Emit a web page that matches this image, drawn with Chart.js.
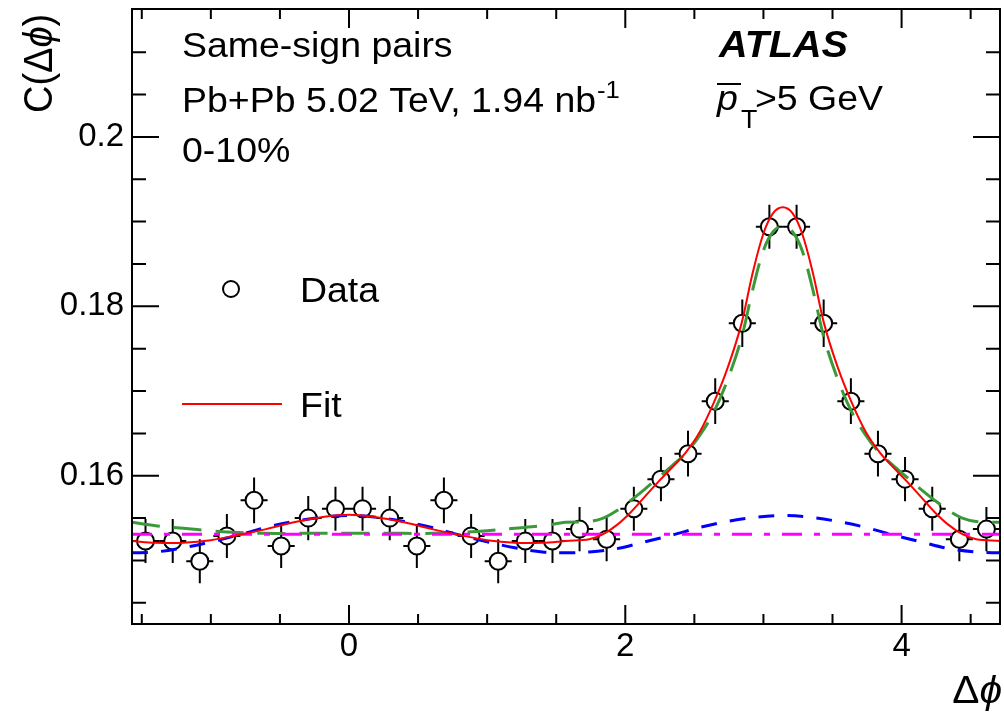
<!DOCTYPE html>
<html>
<head>
<meta charset="utf-8">
<script src="https://cdn.jsdelivr.net/npm/chart.js@4.4.0/dist/chart.umd.min.js"></script>
<style>
  html, body { margin: 0; padding: 0; background: #fff; }
  #wrap { width: 1004px; height: 716px; }
</style>
</head>
<body>
<div id="wrap"><canvas id="corrChart" width="1004" height="716"></canvas></div>
<script>
// bin centres (delta phi) and measured C(dphi)
const dphiBins = [-1.473, -1.276, -1.080, -0.884, -0.687, -0.491, -0.295, -0.098,
  0.098, 0.295, 0.491, 0.687, 0.884, 1.080, 1.276, 1.473,
  1.669, 1.865, 2.062, 2.258, 2.454, 2.651, 2.847, 3.043,
  3.240, 3.436, 3.633, 3.829, 4.025, 4.222, 4.418, 4.614];
const dataValues = [0.1523, 0.1523, 0.1499, 0.1529, 0.1571, 0.1517, 0.1550, 0.1561,
  0.1561, 0.1550, 0.1517, 0.1571, 0.1529, 0.1499, 0.1523, 0.1523,
  0.1537, 0.1525, 0.1561, 0.1596, 0.1626, 0.1688, 0.1780, 0.1894,
  0.1894, 0.1780, 0.1688, 0.1626, 0.1596, 0.1561, 0.1525, 0.1537];
const dataErrors = [0.0026, 0.0026, 0.0026, 0.0026, 0.0027, 0.0026, 0.0026, 0.0026,
  0.0026, 0.0026, 0.0026, 0.0027, 0.0026, 0.0026, 0.0026, 0.0026,
  0.0026, 0.0026, 0.0026, 0.0026, 0.0027, 0.0027, 0.0028, 0.0026,
  0.0026, 0.0028, 0.0027, 0.0027, 0.0026, 0.0026, 0.0026, 0.0026];
const binHalfWidth = 0.098;

// full fit (red)
const fitX = [-1.571, -1.4, -1.2, -1.0, -0.8, -0.6, -0.4, -0.2, 0, 0.2, 0.4, 0.6, 0.8, 1.0, 1.2, 1.4,
  1.57, 1.74, 1.84, 1.94, 2.04, 2.14, 2.24, 2.34, 2.44, 2.54, 2.64, 2.74, 2.84, 2.92, 3.00, 3.07,
  3.14, 3.21, 3.28, 3.36, 3.44, 3.54, 3.64, 3.74, 3.84, 3.94, 4.04, 4.14, 4.24, 4.34, 4.44, 4.54, 4.713];
const fitY = [0.1523, 0.1521, 0.1521, 0.1524, 0.1530, 0.1537, 0.1545, 0.1551, 0.1554, 0.1551, 0.1545, 0.1537, 0.1530, 0.1524, 0.1521, 0.1521,
  0.1523, 0.1525, 0.1531, 0.1542, 0.1557, 0.1575, 0.1593, 0.1610, 0.1628, 0.1652, 0.1686, 0.1727, 0.1779, 0.1838, 0.1886, 0.1910,
  0.1917, 0.1910, 0.1886, 0.1838, 0.1779, 0.1727, 0.1686, 0.1652, 0.1628, 0.1610, 0.1593, 0.1575, 0.1557, 0.1542, 0.1531, 0.1525, 0.1523];

// away-side component (green)
const awayX = fitX;
const awayY = [0.1545, 0.1541, 0.1538, 0.1535, 0.1533, 0.1532, 0.1532, 0.1532, 0.1532, 0.1532, 0.1532, 0.1532, 0.1533, 0.1535, 0.1538, 0.1541,
  0.1545, 0.1546, 0.1550, 0.1559, 0.1571, 0.1584, 0.1598, 0.1612, 0.1627, 0.1648, 0.1675, 0.1713, 0.1762, 0.1818, 0.1866, 0.1888,
  0.1895, 0.1888, 0.1866, 0.1818, 0.1762, 0.1713, 0.1675, 0.1648, 0.1627, 0.1612, 0.1598, 0.1584, 0.1571, 0.1559, 0.1550, 0.1546, 0.1545];

// flow modulation (blue)
const flowX = [-1.571, -1.4, -1.2, -1.0, -0.8, -0.6, -0.4, -0.2, 0, 0.2, 0.4, 0.6, 0.8, 1.0, 1.2, 1.4,
  1.57, 1.74, 1.94, 2.14, 2.34, 2.54, 2.74, 2.94, 3.14, 3.34, 3.54, 3.74, 3.94, 4.14, 4.34, 4.54, 4.713];
const flowY = [0.1509, 0.1510, 0.1515, 0.1522, 0.1530, 0.1539, 0.1546, 0.1551, 0.1553, 0.1551, 0.1546, 0.1539, 0.1530, 0.1522, 0.1515, 0.1510,
  0.1509, 0.1510, 0.1514, 0.1522, 0.1530, 0.1539, 0.1546, 0.1551, 0.1553, 0.1551, 0.1546, 0.1539, 0.1530, 0.1522, 0.1514, 0.1510, 0.1509];

// pedestal (magenta)
const pedX = [-1.571, 4.713];
const pedY = [0.1531, 0.1531];

// axes
const xMin = -1.5708, xMax = 4.7124;
const yMin = 0.1425, yMax = 0.2151;
const xLabelTicks = [0, 2, 4];
const xMinorTicks = [-1.5, -1, -0.5, 0.5, 1, 1.5, 2.5, 3, 3.5, 4.5];
const yLabelTicks = [0.16, 0.18, 0.2];
const yMinorTicks = [0.145, 0.15, 0.155, 0.165, 0.17, 0.175, 0.185, 0.19, 0.195, 0.205, 0.21];

const FONT = '"Liberation Sans", Arial, Helvetica, sans-serif';
const SX = 1.07; // text in the reference is a little wider than tall

const toPts = (xs, ys) => xs.map((x, i) => ({ x: x, y: ys[i] }));

function drawText(ctx, s, x, y, font, align) {
  ctx.save();
  ctx.font = font;
  ctx.fillStyle = '#000';
  ctx.textBaseline = 'alphabetic';
  ctx.textAlign = align || 'left';
  ctx.translate(x, y);
  ctx.scale(SX, 1);
  ctx.fillText(s, 0, 0);
  const w = ctx.measureText(s).width * SX;
  ctx.restore();
  return w;
}

function noPad(s) {
  s.paddingLeft = 0; s.paddingRight = 0; s.paddingTop = 0; s.paddingBottom = 0;
}

const rootPlugin = {
  id: 'rootStyle',
  beforeDatasetsDraw(chart) {
    const ctx = chart.ctx, xs = chart.scales.x, ys = chart.scales.y;
    const r = 8.5;
    ctx.save();
    ctx.strokeStyle = '#000';
    ctx.lineWidth = 2;
    ctx.beginPath();
    dphiBins.forEach((xv, i) => {
      const px = xs.getPixelForValue(xv), py = ys.getPixelForValue(dataValues[i]);
      const top = ys.getPixelForValue(dataValues[i] + dataErrors[i]);
      const bot = ys.getPixelForValue(dataValues[i] - dataErrors[i]);
      const lft = xs.getPixelForValue(xv - binHalfWidth);
      const rgt = xs.getPixelForValue(xv + binHalfWidth);
      ctx.moveTo(px, top); ctx.lineTo(px, py - r);
      ctx.moveTo(px, py + r); ctx.lineTo(px, bot);
      ctx.moveTo(lft, py); ctx.lineTo(px - r, py);
      ctx.moveTo(px + r, py); ctx.lineTo(rgt, py);
    });
    ctx.stroke();
    ctx.restore();
  },
  afterDraw(chart) {
    const ctx = chart.ctx, xs = chart.scales.x, ys = chart.scales.y;
    const a = chart.chartArea;
    ctx.save();
    ctx.strokeStyle = '#000';
    ctx.lineWidth = 2;
    ctx.strokeRect(a.left, a.top, a.right - a.left, a.bottom - a.top);
    ctx.beginPath();
    const xTick = (v, len) => {
      const p = xs.getPixelForValue(v);
      ctx.moveTo(p, a.bottom); ctx.lineTo(p, a.bottom - len);
      ctx.moveTo(p, a.top); ctx.lineTo(p, a.top + len);
    };
    const yTick = (v, len) => {
      const p = ys.getPixelForValue(v);
      ctx.moveTo(a.left, p); ctx.lineTo(a.left + len, p);
      ctx.moveTo(a.right, p); ctx.lineTo(a.right - len, p);
    };
    xLabelTicks.forEach(v => xTick(v, 19));
    xMinorTicks.forEach(v => xTick(v, 10));
    yLabelTicks.forEach(v => yTick(v, 27));
    yMinorTicks.forEach(v => yTick(v, 14));
    ctx.stroke();
    ctx.restore();

    // axis titles
    const tf = '38px ' + FONT, tfi = 'italic 38px ' + FONT;
    let w = drawText(ctx, 'ϕ', 1002, 703, tfi, 'right');
    drawText(ctx, 'Δ', 1002 - w, 703, tf, 'right');

    ctx.save();
    ctx.translate(52, 113);
    ctx.scale(SX, 1);
    ctx.rotate(-Math.PI / 2);
    ctx.fillStyle = '#000';
    ctx.textBaseline = 'alphabetic';
    let cx = 0;
    [['C(Δ', tf], ['ϕ', tfi], [')', tf]].forEach(([s, f]) => {
      ctx.font = f;
      ctx.fillText(s, cx, 0);
      cx += ctx.measureText(s).width;
    });
    ctx.restore();

    // annotations
    const f = '35px ' + FONT;
    drawText(ctx, 'Same-sign pairs', 182, 57, f);
    w = drawText(ctx, 'Pb+Pb 5.02 TeV, 1.94 nb', 182, 112, f);
    drawText(ctx, '-1', 182 + w + 1, 98, '24px ' + FONT);
    drawText(ctx, '0-10%', 182, 162, f);
    drawText(ctx, 'ATLAS', 719, 57, 'italic bold 37px ' + FONT);

    drawText(ctx, 'p', 717, 110, 'italic 35px ' + FONT);
    ctx.save();
    ctx.strokeStyle = '#000';
    ctx.lineWidth = 2;
    ctx.beginPath();
    ctx.moveTo(717, 84); ctx.lineTo(741, 84);
    ctx.stroke();
    ctx.restore();
    drawText(ctx, 'T', 741, 128, '25px ' + FONT);
    drawText(ctx, '>5 GeV', 755, 110, f);

    // legend
    ctx.save();
    ctx.strokeStyle = '#000';
    ctx.lineWidth = 2;
    ctx.beginPath();
    ctx.arc(231, 289, 8, 0, Math.PI * 2);
    ctx.stroke();
    ctx.strokeStyle = '#ff0000';
    ctx.beginPath();
    ctx.moveTo(182, 404); ctx.lineTo(282, 404);
    ctx.stroke();
    ctx.restore();
    drawText(ctx, 'Data', 300, 302, f);
    drawText(ctx, 'Fit', 300, 417, f);
  }
};

new Chart(document.getElementById('corrChart'), {
  type: 'scatter',
  data: {
    datasets: [
      { label: 'Fit', data: toPts(fitX, fitY), showLine: true, borderColor: '#ff0000', borderWidth: 2,
        pointRadius: 0, tension: 0.35, order: 0 },
      { label: 'Pedestal', data: toPts(pedX, pedY), showLine: true, borderColor: '#ff00ff', borderWidth: 3,
        borderDash: [20, 12, 6, 12], pointRadius: 0, order: 1 },
      { label: 'Flow', data: toPts(flowX, flowY), showLine: true, borderColor: '#0000ff', borderWidth: 3,
        borderDash: [16, 13], pointRadius: 0, tension: 0.35, order: 2 },
      { label: 'Away-side', data: toPts(awayX, awayY), showLine: true, borderColor: '#3a9a3a', borderWidth: 3,
        borderDash: [28, 14], pointRadius: 0, tension: 0.35, order: 3 },
      { label: 'Data', data: toPts(dphiBins, dataValues), pointStyle: 'circle', pointRadius: 8.5,
        borderColor: '#000', backgroundColor: 'rgba(0,0,0,0)', borderWidth: 2, order: 4 }
    ]
  },
  options: {
    responsive: false,
    animation: false,
    devicePixelRatio: 1,
    layout: { autoPadding: false, padding: { top: 9, right: 4, left: 0, bottom: 0 } },
    plugins: { legend: { display: false }, tooltip: { enabled: false } },
    scales: {
      x: {
        type: 'linear', min: xMin, max: xMax,
        grid: { display: false, drawTicks: false },
        border: { display: false },
        afterBuildTicks: s => { s.ticks = xLabelTicks.map(v => ({ value: v })); },
        afterFit: s => { s.height = 92; noPad(s); },
        ticks: { padding: 3, color: '#000', font: { family: FONT, size: 33 }, maxRotation: 0,
          callback: v => String(v) }
      },
      y: {
        type: 'linear', min: yMin, max: yMax,
        grid: { display: false, drawTicks: false },
        border: { display: false },
        afterBuildTicks: s => { s.ticks = yLabelTicks.map(v => ({ value: v })); },
        afterFit: s => { s.width = 132; noPad(s); },
        ticks: { padding: 8, color: '#000', font: { family: FONT, size: 33 },
          callback: v => String(+v.toFixed(3)) }
      }
    }
  },
  plugins: [rootPlugin]
});
</script>
</body>
</html>
